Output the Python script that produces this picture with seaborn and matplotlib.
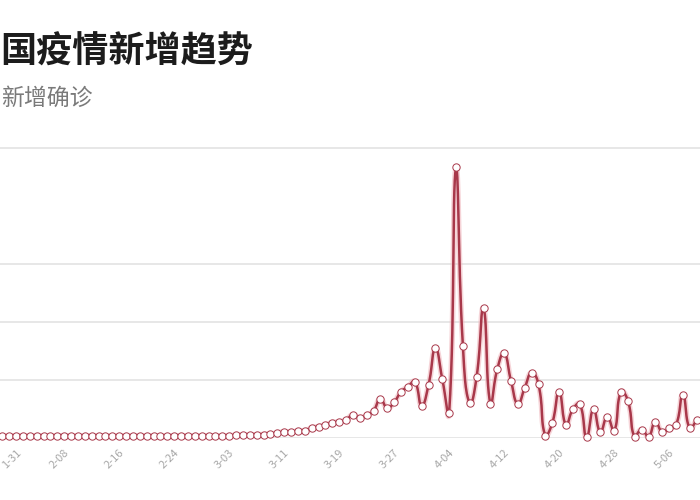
import numpy as np
import pandas as pd
import matplotlib
matplotlib.use("Agg")
import matplotlib.pyplot as plt
import matplotlib.transforms as mtransforms
import seaborn as sns

# ---------------- data ----------------
start_date = "2020-01-29"
values = [
    30, 30, 35, 30, 30, 35, 30, 30, 30, 35, 30, 30, 30, 30, 35, 30, 30,
    30, 30, 30, 35, 30, 30, 30, 30, 30, 35, 30, 30, 30, 35, 30, 30, 35,
    40, 40, 45, 50, 55, 65, 75, 105, 90, 120, 115, 170, 190, 220, 260, 275,
    305, 395, 340, 385, 465, 668, 515, 610, 790, 880, 965, 555, 908, 1542,
    1015, 420, 4660, 1580, 590, 1050, 2230, 585, 1180, 1455, 980, 580, 860,
    1120, 920, 30, 250, 790, 220, 490, 580, 5, 490, 100, 360, 120, 790, 640,
    5, 140, 20, 275, 100, 160, 220, 735, 160, 300,
]
tick_labels = ["1-31", "2-08", "2-16", "2-24", "3-03", "3-11", "3-19",
               "3-27", "4-04", "4-12", "4-20", "4-28", "5-06"]
grid_values = [0, 1000, 2000, 3000, 5000]
title = "国疫情新增趋势"
subtitle = "新增确诊"

dates = pd.date_range(start_date, periods=len(values), freq="D")
first_tick = pd.Timestamp("2020-01-31")
day_idx = np.array([(d - first_tick).days for d in dates], dtype=float)
vals = np.array(values, dtype=float)
df = pd.DataFrame({"day": day_idx, "value": vals})

# ---------------- style ----------------
sns.set_theme(style="white")
plt.rcParams["font.family"] = ["Noto Sans CJK SC", "DejaVu Sans"]

LINE = "#a8384a"
GRID = "#e3e3e3"

fig = plt.figure(figsize=(7, 5), dpi=100)
fig.patch.set_facecolor("white")

px_day = 6.875           # pixels per day
px_unit = 58.0 / 1000.0  # pixels per value unit
x0 = -16.0 / px_day
x1 = (700.0 - 16.0) / px_day
ytop = 5100
bottom = (500 - 437.7) / 500
height = ytop * px_unit / 500
ax = fig.add_axes([0.0, bottom, 1.0, height])
ax.set_xlim(x0, x1)
ax.set_ylim(0, ytop)

# ---------------- smooth curve (echarts-like bezier with constraint) ----------------
P = np.column_stack([day_idx * px_day, vals * px_unit])
n = len(P)
smooth = 0.5
mn = P.min(axis=0)
mx = P.max(axis=0)
cp0 = np.zeros_like(P)
cp1 = np.zeros_like(P)
for i in range(n):
    p = P[i]
    prev = P[i - 1] if i > 0 else p
    nxt = P[i + 1] if i < n - 1 else p
    v = (nxt - prev) * smooth
    d0 = np.linalg.norm(p - prev)
    d1 = np.linalg.norm(p - nxt)
    s = d0 + d1
    if s != 0:
        d0 /= s
        d1 /= s
    cp0[i] = np.clip(p - v * d0, mn, mx)
    cp1[i] = np.clip(p + v * d1, mn, mx)

curve = []
t = np.linspace(0, 1, 16)[:, None]
for i in range(n - 1):
    A, B, C, D = P[i], cp1[i], cp0[i + 1], P[i + 1]
    seg = ((1 - t) ** 3) * A + 3 * ((1 - t) ** 2) * t * B + 3 * (1 - t) * t ** 2 * C + t ** 3 * D
    curve.append(seg if i == 0 else seg[1:])
curve = np.vstack(curve)
cdf = pd.DataFrame({"day": curve[:, 0] / px_day, "value": curve[:, 1] / px_unit})

# grid lines
for g in grid_values:
    ax.axhline(g, color=GRID, lw=1.2, zorder=0)

sns.lineplot(data=cdf, x="day", y="value", ax=ax, sort=False, estimator=None,
             color="#f0b8be", lw=4.0, alpha=0.6, zorder=2)
sns.lineplot(data=cdf, x="day", y="value", ax=ax, sort=False, estimator=None,
             color=LINE, lw=1.8, zorder=3)
sns.scatterplot(data=df, x="day", y="value", ax=ax, s=28, marker="o",
                facecolor="white", edgecolor=LINE, linewidth=0.7, zorder=4)
for coll in ax.collections:
    coll.set_clip_on(False)

# axes cosmetics
for sp in ax.spines.values():
    sp.set_visible(False)
ax.set_xlabel("")
ax.set_ylabel("")
ax.set_yticks([])
ax.set_xticks(np.arange(len(tick_labels)) * 8)
ax.set_xticklabels(tick_labels, rotation=45, ha="right", fontsize=8, color="#a8a8a8")
ax.tick_params(axis="x", length=0, pad=7)
ax.grid(False)
# keep the first label inside the canvas
first = ax.get_xticklabels()[0]
first.set_transform(first.get_transform() +
                    mtransforms.ScaledTranslation(7 / 100, 0, fig.dpi_scale_trans))

# titles
fig.text(0.0, 1 - 52 / 500, title, fontsize=26, fontweight="bold",
         color="#1c1c1c", ha="left", va="center")
fig.text(1 / 700, 1 - 98 / 500, subtitle, fontsize=16.5, color="#7a7a7a",
         ha="left", va="center")

fig.savefig("out.png", dpi=100, facecolor="white")
